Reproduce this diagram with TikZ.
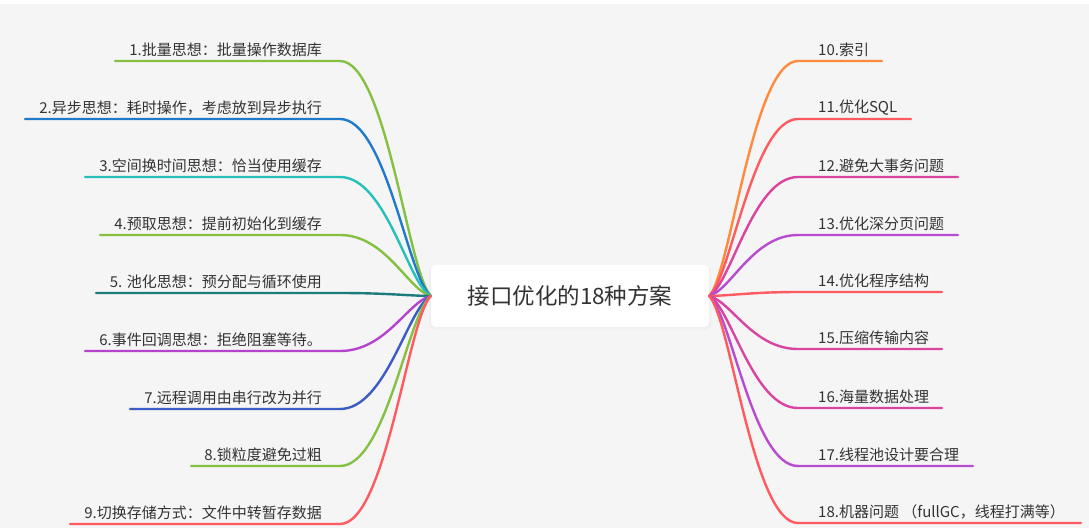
\documentclass[tikz,border=0pt]{standalone}
\usepackage{fontspec}
\setmainfont{Noto Sans CJK SC}
\usetikzlibrary{calc}
\definecolor{bg}{HTML}{F5F5F5}
\definecolor{txt}{HTML}{333333}
\definecolor{cgreen}{HTML}{86C043}
\definecolor{cblue}{HTML}{1F7ACC}
\definecolor{cteal}{HTML}{26C0B8}
\definecolor{cdteal}{HTML}{1C7C7D}
\definecolor{cpurple}{HTML}{B444CC}
\definecolor{cindigo}{HTML}{3D5BC4}
\definecolor{cred}{HTML}{FF5A5F}
\definecolor{corange}{HTML}{FF8A3D}
\definecolor{cmagenta}{HTML}{D8449F}
\definecolor{cviolet}{HTML}{B84CCF}
\begin{document}
\begin{tikzpicture}[x=1pt,y=-1pt,
  branch/.style={line width=2.4pt,line cap=round},
  ltext/.style={anchor=east,inner sep=0pt,text=txt,font=\fontsize{15}{17}\selectfont},
  rtext/.style={anchor=west,inner sep=0pt,text=txt,font=\fontsize{15}{17}\selectfont},
  rootbox/.style={fill=white,rounded corners=5pt,minimum width=278pt,minimum height=62pt,inner sep=0pt,text=txt,font=\fontsize{22.5}{25}\selectfont}]
\useasboundingbox (0,0) rectangle (1089,528);
\fill[bg] (0,0) rectangle (1089,528);
\fill[white] (0,0) rectangle (1089,4);
% shadow
\fill[black!6,rounded corners=6pt] (429,266) rectangle (711,330);
\node[rootbox] (root) at (570,296) {接口优化的18种方案};
% left corners and ends
\coordinate (c1) at (340,61);  \coordinate (e1) at (115,61);
\coordinate (c2) at (340,119); \coordinate (e2) at (25,119);
\coordinate (c3) at (340,177); \coordinate (e3) at (85,177);
\coordinate (c4) at (340,235); \coordinate (e4) at (100,235);
\coordinate (c5) at (340,293); \coordinate (e5) at (96,293);
\coordinate (c6) at (340,351); \coordinate (e6) at (85,351);
\coordinate (c7) at (340,409); \coordinate (e7) at (130,409);
\coordinate (c8) at (340,466); \coordinate (e8) at (191,466);
\coordinate (c9) at (340,524); \coordinate (e9) at (70,524);
% right corners and ends
\coordinate (c10) at (798,61);  \coordinate (e10) at (882,61);
\coordinate (c11) at (798,119); \coordinate (e11) at (911,119);
\coordinate (c12) at (798,177); \coordinate (e12) at (958,177);
\coordinate (c13) at (798,235); \coordinate (e13) at (958,235);
\coordinate (c14) at (798,292); \coordinate (e14) at (942,292);
\coordinate (c15) at (798,349); \coordinate (e15) at (942,349);
\coordinate (c16) at (798,408); \coordinate (e16) at (942,408);
\coordinate (c17) at (798,466); \coordinate (e17) at (973,466);
\coordinate (c18) at (798,523); \coordinate (e18) at (1081,523);
% left branches
\draw[branch,cgreen]   (root.west) .. controls (408,272.5) and (386,61)  .. (c1) -- (e1);
\draw[branch,cblue]    (root.west) .. controls (408,278.3) and (386,119) .. (c2) -- (e2);
\draw[branch,cteal]    (root.west) .. controls (408,284.1) and (386,177) .. (c3) -- (e3);
\draw[branch,cgreen]   (root.west) .. controls (408,289.9) and (386,235) .. (c4) -- (e4);
\draw[branch,cdteal]   (root.west) .. controls (408,295.7) and (386,293) .. (c5) -- (e5);
\draw[branch,cpurple]  (root.west) .. controls (408,301.5) and (386,351) .. (c6) -- (e6);
\draw[branch,cindigo]  (root.west) .. controls (408,307.3) and (386,409) .. (c7) -- (e7);
\draw[branch,cgreen]   (root.west) .. controls (408,313)   and (386,466) .. (c8) -- (e8);
\draw[branch,cred]     (root.west) .. controls (408,318.8) and (386,524) .. (c9) -- (e9);
% right branches
\draw[branch,corange]  (root.east) .. controls (731,272.5) and (753,61)  .. (c10) -- (e10);
\draw[branch,cred]     (root.east) .. controls (731,278.3) and (753,119) .. (c11) -- (e11);
\draw[branch,cmagenta] (root.east) .. controls (731,284.1) and (753,177) .. (c12) -- (e12);
\draw[branch,cviolet]  (root.east) .. controls (731,289.9) and (753,235) .. (c13) -- (e13);
\draw[branch,cred]     (root.east) .. controls (731,295.6) and (753,292) .. (c14) -- (e14);
\draw[branch,cmagenta] (root.east) .. controls (731,301.3) and (753,349) .. (c15) -- (e15);
\draw[branch,cmagenta] (root.east) .. controls (731,307.2) and (753,408) .. (c16) -- (e16);
\draw[branch,cviolet]  (root.east) .. controls (731,313)   and (753,466) .. (c17) -- (e17);
\draw[branch,cred]     (root.east) .. controls (731,318.7) and (753,523) .. (c18) -- (e18);
% left texts
\node[ltext] (t1) at (322,50)  {1.批量思想：批量操作数据库};
\node[ltext] (t2) at (322,108) {2.异步思想：耗时操作，考虑放到异步执行};
\node[ltext] (t3) at (322,166) {3.空间换时间思想：恰当使用缓存};
\node[ltext] (t4) at (322,224) {4.预取思想：提前初始化到缓存};
\node[ltext] (t5) at (322,282) {5. 池化思想：预分配与循环使用};
\node[ltext] (t6) at (322,340) {6.事件回调思想：拒绝阻塞等待。};
\node[ltext] (t7) at (322,398) {7.远程调用由串行改为并行};
\node[ltext] (t8) at (322,455) {8.锁粒度避免过粗};
\node[ltext] (t9) at (322,513) {9.切换存储方式：文件中转暂存数据};
% right texts
\node[rtext] (t10) at (818,50)  {10.索引};
\node[rtext] (t11) at (818,108) {11.优化SQL};
\node[rtext] (t12) at (818,166) {12.避免大事务问题};
\node[rtext] (t13) at (818,224) {13.优化深分页问题};
\node[rtext] (t14) at (818,281) {14.优化程序结构};
\node[rtext] (t15) at (818,338) {15.压缩传输内容};
\node[rtext] (t16) at (818,397) {16.海量数据处理};
\node[rtext] (t17) at (818,455) {17.线程池设计要合理};
\node[rtext] (t18) at (818,512) {18.机器问题 （fullGC，线程打满等）};
\end{tikzpicture}
\end{document}
